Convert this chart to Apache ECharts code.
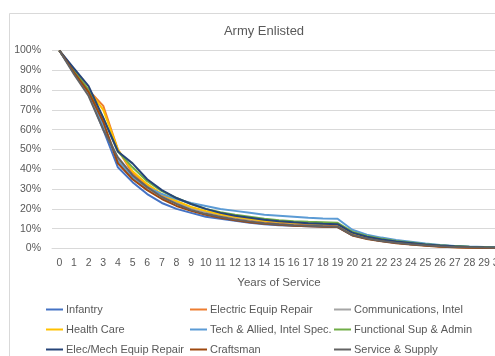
<!DOCTYPE html>
<html>
<head>
<meta charset="utf-8">
<script src="https://cdn.jsdelivr.net/npm/echarts@6/dist/echarts.min.js"></script>
<style>
  html, body { margin: 0; padding: 0; background: #fff; }
  #chart { width: 495px; height: 356px; }
</style>
</head>
<body>
<div id="chart"></div>
<script>
// Years of service 0..30
const years = Array.from({ length: 31 }, (_, i) => String(i));

// Share of each cohort still serving (%), by year of service
const infantry      = [100, 89, 78, 60, 41, 33.5, 27.5, 23, 20, 18, 16, 15, 14, 13, 12.3, 11.8, 11.5, 11.2, 11, 10.8, 6.8, 5, 3.8, 2.9, 2.2, 1.6, 1.1, 0.8, 0.6, 0.5, 0.4];
const electricRepair= [100, 90, 80, 72, 50, 38, 32, 27, 23.5, 20.5, 18.5, 17, 15.5, 14.5, 13.5, 13, 12.5, 12.2, 12, 11.8, 7.3, 5.2, 4, 3, 2.2, 1.6, 1.0, 0.6, 0.4, 0.3, 0.2];
const commsIntel    = [100, 89, 78, 63, 45, 36, 30.5, 26, 23, 20.5, 18.5, 17, 15.8, 14.8, 14, 13.5, 13, 12.7, 12.5, 12.3, 8, 5.8, 4.5, 3.5, 2.7, 2, 1.5, 1.1, 0.8, 0.6, 0.5];
const healthCare    = [100, 90, 80, 70, 50, 39, 32.5, 27.5, 24, 21, 19, 17.3, 16, 15, 14, 13.5, 13, 12.7, 12.5, 12.3, 7.8, 5.6, 4.3, 3.3, 2.5, 1.8, 1.3, 0.9, 0.7, 0.5, 0.4];
const techAllied    = [100, 89, 79, 62, 44, 36, 31, 27.5, 25, 23, 21.5, 20, 19, 18, 17, 16.5, 16, 15.5, 15.2, 15, 9.5, 7, 5.5, 4.3, 3.4, 2.5, 1.8, 1.3, 1.0, 0.8, 0.6];
const functionalSup = [100, 90, 80, 66, 49, 41, 34, 29, 25.5, 22.5, 20, 18.3, 17, 16, 15, 14.3, 13.8, 13.5, 13.3, 13, 8.5, 6.3, 4.9, 3.8, 3, 2.2, 1.6, 1.2, 0.9, 0.7, 0.5];
const elecMechRepair= [100, 91, 82, 66, 49, 43, 35, 29.5, 25.5, 22.5, 20, 18, 16.5, 15.5, 14.5, 13.8, 13.2, 12.8, 12.5, 12.3, 8, 5.9, 4.6, 3.6, 2.8, 2, 1.5, 1.1, 0.8, 0.6, 0.5];
const craftsman     = [100, 89, 79, 64, 43, 35, 29.5, 25, 21.5, 19, 17, 15.5, 14.3, 13.3, 12.5, 12, 11.5, 11.2, 11, 10.8, 6.6, 4.8, 3.6, 2.7, 2, 1.4, 0.9, 0.6, 0.4, 0.3, 0.2];
const serviceSupply = [100, 88, 77, 60, 46, 37, 31, 26, 22.5, 19.5, 17.5, 16, 14.7, 13.7, 12.8, 12.2, 11.8, 11.5, 11.2, 11, 6.8, 5, 3.8, 2.9, 2.2, 1.6, 1.1, 0.8, 0.6, 0.5, 0.4];

const seriesDefs = [
  { name: 'Infantry',                   data: infantry,       color: '#4472C4' },
  { name: 'Electric Equip Repair',      data: electricRepair, color: '#ED7D31' },
  { name: 'Communications, Intel',      data: commsIntel,     color: '#A5A5A5' },
  { name: 'Health Care',                data: healthCare,     color: '#FFC000' },
  { name: 'Tech & Allied, Intel Spec.', data: techAllied,     color: '#5B9BD5' },
  { name: 'Functional Sup & Admin',     data: functionalSup,  color: '#70AD47' },
  { name: 'Elec/Mech Equip Repair',     data: elecMechRepair, color: '#264478' },
  { name: 'Craftsman',                  data: craftsman,      color: '#9E480E' },
  { name: 'Service & Supply',           data: serviceSupply,  color: '#636363' }
];

const FONT = 'Liberation Sans, Arial, sans-serif';
const TEXT = '#595959';

// Legend: 3 x 3 grid, filled row by row in series order
const legendCols = [46, 190, 334];
const legendRows = [304, 324, 344];
const legends = seriesDefs.map((s, i) => ({
  left: legendCols[i % 3],
  top: legendRows[Math.floor(i / 3)],
  itemWidth: 17,
  itemHeight: 2,
  icon: 'rect',
  padding: 0,
  data: [s.name],
  textStyle: { color: TEXT, fontFamily: FONT, fontSize: 11, padding: [0, 0, 0, -2] }
}));

const chart = echarts.init(document.getElementById('chart'), null, { renderer: 'canvas' });
chart.setOption({
  animation: false,
  backgroundColor: '#fff',
  title: {
    text: 'Army Enlisted',
    left: 259,
    textAlign: 'center',
    top: 20,
    textStyle: { color: TEXT, fontFamily: FONT, fontSize: 13, fontWeight: 'normal' }
  },
  graphic: [{
    type: 'rect',
    shape: { x: 9.5, y: 13.5, width: 500, height: 360 },
    style: { fill: 'none', stroke: '#D9D9D9', lineWidth: 1 },
    silent: true,
    z: -1
  }],
  legend: legends,
  grid: { left: 52, top: 50.5, width: 454, height: 198, containLabel: false, outerBoundsMode: 'none' },
  xAxis: {
    type: 'category',
    data: years,
    boundaryGap: true,
    name: 'Years of Service',
    nameLocation: 'middle',
    nameGap: 28,
    nameTextStyle: { color: TEXT, fontFamily: FONT, fontSize: 11.5 },
    axisLine: { show: true, lineStyle: { color: '#D9D9D9' } },
    axisTick: { show: false },
    axisLabel: { interval: 0, color: TEXT, fontFamily: FONT, fontSize: 10.5, margin: 9 }
  },
  yAxis: {
    type: 'value',
    min: 0,
    max: 100,
    interval: 10,
    axisLine: { show: false },
    axisTick: { show: false },
    splitLine: { lineStyle: { color: '#D9D9D9', width: 1 } },
    axisLabel: { formatter: '{value}%', color: TEXT, fontFamily: FONT, fontSize: 10.5, margin: 11 }
  },
  series: seriesDefs.map(s => ({
    type: 'line',
    name: s.name,
    data: s.data,
    color: s.color,
    showSymbol: false,
    symbol: 'none',
    lineStyle: { width: 2, color: s.color },
    emphasis: { disabled: true }
  }))
});
</script>
</body>
</html>
